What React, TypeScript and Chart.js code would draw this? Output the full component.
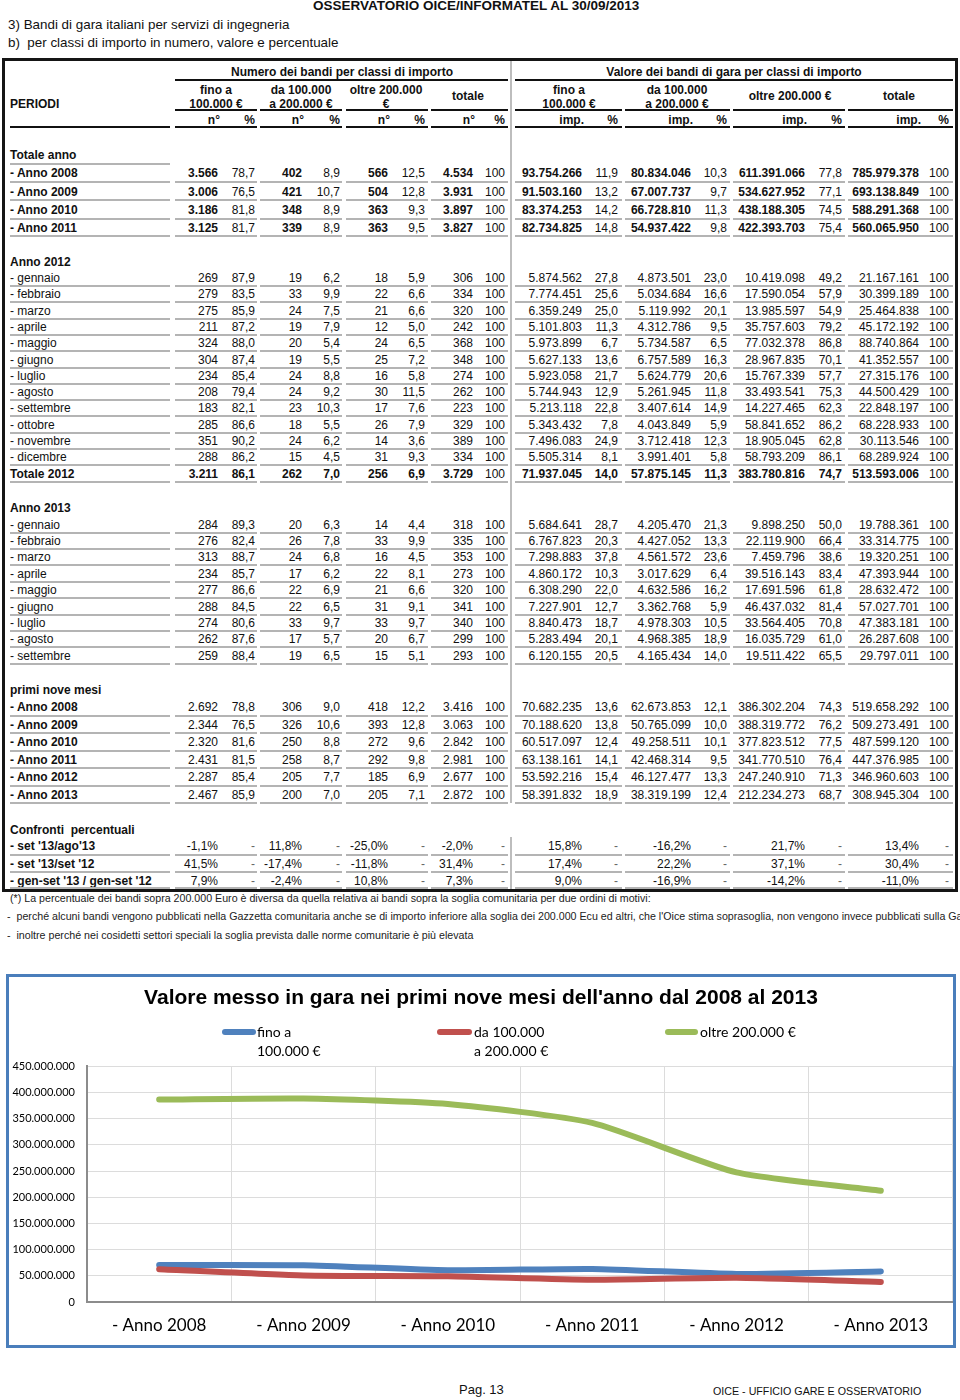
import React, { useEffect, useRef } from "react";
import { Chart, registerables } from "chart.js";
Chart.register(...registerables);

// ---------- chart data ----------
const chartYears = ["- Anno 2008", "- Anno 2009", "- Anno 2010", "- Anno 2011", "- Anno 2012", "- Anno 2013"];
const fino100 = [70682235, 70188620, 60517097, 63138161, 53592216, 58391832];
const da100a200 = [62673853, 50765099, 49258511, 42468314, 46127477, 38319199];
const oltre200 = [386302204, 388319772, 377823512, 341770510, 247240910, 212234273];
const seriesNames = ["fino a 100.000 €", "da 100.000 a 200.000 €", "oltre 200.000 €"];
const chartTitle = "Valore messo in gara nei primi nove mesi dell'anno dal 2008 al 2013";

// ---------- table data ----------
const totaleAnnoLabels = ["- Anno 2008", "- Anno 2009", "- Anno 2010", "- Anno 2011"];
const totaleAnnoRows = [
  ["3.566", "78,7", "402", "8,9", "566", "12,5", "4.534", "100", "93.754.266", "11,9", "80.834.046", "10,3", "611.391.066", "77,8", "785.979.378", "100"],
  ["3.006", "76,5", "421", "10,7", "504", "12,8", "3.931", "100", "91.503.160", "13,2", "67.007.737", "9,7", "534.627.952", "77,1", "693.138.849", "100"],
  ["3.186", "81,8", "348", "8,9", "363", "9,3", "3.897", "100", "83.374.253", "14,2", "66.728.810", "11,3", "438.188.305", "74,5", "588.291.368", "100"],
  ["3.125", "81,7", "339", "8,9", "363", "9,5", "3.827", "100", "82.734.825", "14,8", "54.937.422", "9,8", "422.393.703", "75,4", "560.065.950", "100"],
];
const mesi2012 = ["- gennaio", "- febbraio", "- marzo", "- aprile", "- maggio", "- giugno", "- luglio", "- agosto", "- settembre", "- ottobre", "- novembre", "- dicembre"];
const rows2012 = [
  ["269", "87,9", "19", "6,2", "18", "5,9", "306", "100", "5.874.562", "27,8", "4.873.501", "23,0", "10.419.098", "49,2", "21.167.161", "100"],
  ["279", "83,5", "33", "9,9", "22", "6,6", "334", "100", "7.774.451", "25,6", "5.034.684", "16,6", "17.590.054", "57,9", "30.399.189", "100"],
  ["275", "85,9", "24", "7,5", "21", "6,6", "320", "100", "6.359.249", "25,0", "5.119.992", "20,1", "13.985.597", "54,9", "25.464.838", "100"],
  ["211", "87,2", "19", "7,9", "12", "5,0", "242", "100", "5.101.803", "11,3", "4.312.786", "9,5", "35.757.603", "79,2", "45.172.192", "100"],
  ["324", "88,0", "20", "5,4", "24", "6,5", "368", "100", "5.973.899", "6,7", "5.734.587", "6,5", "77.032.378", "86,8", "88.740.864", "100"],
  ["304", "87,4", "19", "5,5", "25", "7,2", "348", "100", "5.627.133", "13,6", "6.757.589", "16,3", "28.967.835", "70,1", "41.352.557", "100"],
  ["234", "85,4", "24", "8,8", "16", "5,8", "274", "100", "5.923.058", "21,7", "5.624.779", "20,6", "15.767.339", "57,7", "27.315.176", "100"],
  ["208", "79,4", "24", "9,2", "30", "11,5", "262", "100", "5.744.943", "12,9", "5.261.945", "11,8", "33.493.541", "75,3", "44.500.429", "100"],
  ["183", "82,1", "23", "10,3", "17", "7,6", "223", "100", "5.213.118", "22,8", "3.407.614", "14,9", "14.227.465", "62,3", "22.848.197", "100"],
  ["285", "86,6", "18", "5,5", "26", "7,9", "329", "100", "5.343.432", "7,8", "4.043.849", "5,9", "58.841.652", "86,2", "68.228.933", "100"],
  ["351", "90,2", "24", "6,2", "14", "3,6", "389", "100", "7.496.083", "24,9", "3.712.418", "12,3", "18.905.045", "62,8", "30.113.546", "100"],
  ["288", "86,2", "15", "4,5", "31", "9,3", "334", "100", "5.505.314", "8,1", "3.991.401", "5,8", "58.793.209", "86,1", "68.289.924", "100"],
];
const totale2012 = ["3.211", "86,1", "262", "7,0", "256", "6,9", "3.729", "100", "71.937.045", "14,0", "57.875.145", "11,3", "383.780.816", "74,7", "513.593.006", "100"];
const mesi2013 = ["- gennaio", "- febbraio", "- marzo", "- aprile", "- maggio", "- giugno", "- luglio", "- agosto", "- settembre"];
const rows2013 = [
  ["284", "89,3", "20", "6,3", "14", "4,4", "318", "100", "5.684.641", "28,7", "4.205.470", "21,3", "9.898.250", "50,0", "19.788.361", "100"],
  ["276", "82,4", "26", "7,8", "33", "9,9", "335", "100", "6.767.823", "20,3", "4.427.052", "13,3", "22.119.900", "66,4", "33.314.775", "100"],
  ["313", "88,7", "24", "6,8", "16", "4,5", "353", "100", "7.298.883", "37,8", "4.561.572", "23,6", "7.459.796", "38,6", "19.320.251", "100"],
  ["234", "85,7", "17", "6,2", "22", "8,1", "273", "100", "4.860.172", "10,3", "3.017.629", "6,4", "39.516.143", "83,4", "47.393.944", "100"],
  ["277", "86,6", "22", "6,9", "21", "6,6", "320", "100", "6.308.290", "22,0", "4.632.586", "16,2", "17.691.596", "61,8", "28.632.472", "100"],
  ["288", "84,5", "22", "6,5", "31", "9,1", "341", "100", "7.227.901", "12,7", "3.362.768", "5,9", "46.437.032", "81,4", "57.027.701", "100"],
  ["274", "80,6", "33", "9,7", "33", "9,7", "340", "100", "8.840.473", "18,7", "4.978.303", "10,5", "33.564.405", "70,8", "47.383.181", "100"],
  ["262", "87,6", "17", "5,7", "20", "6,7", "299", "100", "5.283.494", "20,1", "4.968.385", "18,9", "16.035.729", "61,0", "26.287.608", "100"],
  ["259", "88,4", "19", "6,5", "15", "5,1", "293", "100", "6.120.155", "20,5", "4.165.434", "14,0", "19.511.422", "65,5", "29.797.011", "100"],
];
const noveMesiLabels = ["- Anno 2008", "- Anno 2009", "- Anno 2010", "- Anno 2011", "- Anno 2012", "- Anno 2013"];
const noveMesiRows = [
  ["2.692", "78,8", "306", "9,0", "418", "12,2", "3.416", "100", "70.682.235", "13,6", "62.673.853", "12,1", "386.302.204", "74,3", "519.658.292", "100"],
  ["2.344", "76,5", "326", "10,6", "393", "12,8", "3.063", "100", "70.188.620", "13,8", "50.765.099", "10,0", "388.319.772", "76,2", "509.273.491", "100"],
  ["2.320", "81,6", "250", "8,8", "272", "9,6", "2.842", "100", "60.517.097", "12,4", "49.258.511", "10,1", "377.823.512", "77,5", "487.599.120", "100"],
  ["2.431", "81,5", "258", "8,7", "292", "9,8", "2.981", "100", "63.138.161", "14,1", "42.468.314", "9,5", "341.770.510", "76,4", "447.376.985", "100"],
  ["2.287", "85,4", "205", "7,7", "185", "6,9", "2.677", "100", "53.592.216", "15,4", "46.127.477", "13,3", "247.240.910", "71,3", "346.960.603", "100"],
  ["2.467", "85,9", "200", "7,0", "205", "7,1", "2.872", "100", "58.391.832", "18,9", "38.319.199", "12,4", "212.234.273", "68,7", "308.945.304", "100"],
];
const confrontiLabels = ["- set '13/ago'13", "- set '13/set '12", "- gen-set '13 / gen-set '12"];
const confrontiRows = [
  ["-1,1%", "-", "11,8%", "-", "-25,0%", "-", "-2,0%", "-", "15,8%", "-", "-16,2%", "-", "21,7%", "-", "13,4%", "-"],
  ["41,5%", "-", "-17,4%", "-", "-11,8%", "-", "31,4%", "-", "17,4%", "-", "22,2%", "-", "37,1%", "-", "30,4%", "-"],
  ["7,9%", "-", "-2,4%", "-", "10,8%", "-", "7,3%", "-", "9,0%", "-", "-16,9%", "-", "-14,2%", "-", "-11,0%", "-"],
];
const subHeaders = ["n°", "%", "n°", "%", "n°", "%", "n°", "%", "imp.", "%", "imp.", "%", "imp.", "%", "imp.", "%"];

// ---------- layout ----------
const BASE = "'Liberation Sans', Arial, Helvetica, sans-serif";
const NARROW = "'Liberation Sans Narrow', 'Arial Narrow', 'Liberation Sans', sans-serif";
const CAL = "Lato, 'Open Sans', sans-serif";
const COLS = [218, 255, 302, 340, 388, 425, 473, 505, 582, 618, 691, 727, 805, 842, 919, 949];
const GROUPS = [[175, 257], [260, 342], [346, 428], [431, 508], [515, 622], [625, 730], [733, 845], [848, 953]];
const LABEL_LINE = [10, 170];

type TP = { x: number; y: number; t: string; a?: "l" | "r" | "c"; b?: boolean; s?: number; f?: string; c?: string; sx?: number };
function Txt({ x, y, t, a = "l", b = false, s = 12, f = BASE, c = "#111", sx }: TP) {
  const h = 20;
  const st: React.CSSProperties = {
    position: "absolute", top: y - h / 2, height: h, lineHeight: h + "px", fontSize: s,
    fontWeight: b ? 700 : 400, fontFamily: f, color: c, whiteSpace: "pre",
  };
  if (a === "l") st.left = x;
  else if (a === "r") st.right = 960 - x;
  else { st.left = x - 300; st.width = 600; st.textAlign = "center"; }
  if (sx) { st.transform = `scaleX(${sx})`; st.transformOrigin = "left center"; }
  return <div style={st}>{t}</div>;
}
function HL({ x1, x2, y, c = "#b4b4b4", w = 2 }: { x1: number; x2: number; y: number; c?: string; w?: number }) {
  return <div style={{ position: "absolute", left: x1, width: x2 - x1, top: y - w / 2, height: w, background: c }} />;
}

type RowP = { y: number; label: string; vals: string[]; lb?: boolean; vb?: (i: number, v: string) => boolean; lo?: number; vc?: (v: string) => string };
function Row({ y, label, vals, lb = false, vb = () => false, lo = 8, vc = () => "#111" }: RowP) {
  return (
    <>
      <Txt x={10} y={y} t={label} b={lb} />
      {vals.map((v, i) => <Txt key={i} x={COLS[i]} y={y} t={v} a="r" b={vb(i, v)} c={vc(v)} />)}
      <HL x1={LABEL_LINE[0]} x2={LABEL_LINE[1]} y={y + lo} />
      {GROUPS.map((g, i) => <HL key={"g" + i} x1={g[0]} x2={g[1]} y={y + lo} />)}
    </>
  );
}

function fmt(v: number) {
  return Math.round(v).toString().replace(/\B(?=(\d{3})+(?!\d))/g, ".");
}

function ChartBox() {
  const ref = useRef<HTMLCanvasElement>(null);
  useEffect(() => {
    const colors = ["#4F81BD", "#C0504D", "#9BBB59"];
    const data = [fino100, da100a200, oltre200];
    const chart = new Chart(ref.current!, {
      type: "line",
      data: {
        labels: chartYears,
        datasets: data.map((d, i) => ({
          label: seriesNames[i], data: d, borderColor: colors[i], backgroundColor: colors[i],
          borderWidth: 6, pointRadius: 0, tension: 0.2, borderCapStyle: "round", borderJoinStyle: "round", order: 3 - i,
        })),
      },
      options: {
        animation: false, responsive: false,
        layout: { padding: { top: 0, right: 0, bottom: 10, left: 0 } },
        plugins: {
          legend: { display: false }, tooltip: { enabled: false },
          title: { display: true, text: chartTitle, color: "#000", font: { family: BASE, size: 21, weight: "bold" }, padding: { top: 9, bottom: 55 } },
        },
        scales: {
          x: {
            offset: true,
            grid: { offset: true, color: "#dcdcdc", drawTicks: false },
            border: { color: "#8c8c8c", width: 2 },
            ticks: { color: "#000", font: { family: CAL, size: 17 }, padding: 13, maxRotation: 0, autoSkip: false },
            afterFit: (s: any) => { s.height = 33; },
          },
          y: {
            min: 0, max: 450000000,
            grid: { color: "#dcdcdc", drawTicks: false },
            border: { color: "#8c8c8c", width: 2 },
            ticks: { stepSize: 50000000, color: "#000", font: { family: CAL, size: 11 }, padding: 12, callback: (v: any) => fmt(Number(v)) },
            afterFit: (s: any) => { s.width = 78; },
          },
        },
      },
    } as any);
    return () => chart.destroy();
  }, []);
  return (
    <div style={{ position: "absolute", left: 6, top: 974, width: 950, height: 374, border: "3px solid #4A7EBB", boxSizing: "border-box" }}>
      <canvas ref={ref} width={944} height={368} style={{ position: "absolute", left: 0, top: 0, width: 944, height: 368 }} />
    </div>
  );
}

function Legend() {
  const items = [
    { x: 222, w: 34, c: "#4F81BD", tx: 257, lines: ["fino a", "100.000 €"] },
    { x: 437, w: 35, c: "#C0504D", tx: 474, lines: ["da 100.000", "a 200.000 €"] },
    { x: 665, w: 33, c: "#9BBB59", tx: 700, lines: ["oltre 200.000 €"] },
  ];
  return (
    <>
      {items.map((it, i) => (
        <React.Fragment key={i}>
          <div style={{ position: "absolute", left: it.x, top: 1029, width: it.w, height: 6, borderRadius: 3, background: it.c }} />
          {it.lines.map((l, j) => <Txt key={j} x={it.tx} y={1031.5 + j * 19.5} t={l} f={CAL} s={14} c="#000" />)}
        </React.Fragment>
      ))}
    </>
  );
}

export default function App() {
  const monthY12 = mesi2012.map((_, i) => 278 + i * 16.3);
  const monthY13 = mesi2013.map((_, i) => 524.5 + i * 16.4);
  const tY = [173, 191.5, 210, 227.5];
  const nY = noveMesiLabels.map((_, i) => 707 + i * 17.5);
  const cY = [846, 863.5, 881];
  const evenBold = (i: number) => i % 2 === 0;
  const allBold = (_i: number, v: string) => v !== "100";
  return (
    <div style={{ position: "absolute", left: 0, top: 0, width: 960, height: 1400, overflow: "hidden", background: "#fff" }}>
      <Txt x={313} y={5.5} t="OSSERVATORIO OICE/INFORMATEL AL 30/09/2013" b s={13.5} />
      <Txt x={8} y={25} t="3) Bandi di gara italiani per servizi di ingegneria" s={13.4} />
      <Txt x={8} y={43} t="b)  per classi di importo in numero, valore e percentuale" s={13.4} />

      {/* table frame */}
      <div style={{ position: "absolute", left: 2, top: 58, width: 956, height: 834, border: "3px solid #151515", boxSizing: "border-box" }} />
      <div style={{ position: "absolute", left: 510, top: 61, width: 2, height: 742, background: "#bdbdbd" }} />
      <div style={{ position: "absolute", left: 510, top: 837, width: 2, height: 52, background: "#bdbdbd" }} />

      {/* header */}
      <Txt x={342} y={72} t="Numero dei bandi per classi di importo" a="c" b />
      <Txt x={734} y={72} t="Valore dei bandi di gara per classi di importo" a="c" b />
      <HL x1={175} x2={508} y={79.5} c="#111" />
      <HL x1={515} x2={953} y={79.5} c="#111" />
      <Txt x={10} y={104} t="PERIODI" b />
      <Txt x={216} y={89.5} t="fino a" a="c" b />
      <Txt x={216} y={103.5} t="100.000 €" a="c" b />
      <Txt x={301} y={89.5} t="da 100.000" a="c" b />
      <Txt x={301} y={103.5} t="a 200.000 €" a="c" b />
      <Txt x={386} y={89.5} t="oltre 200.000" a="c" b />
      <Txt x={386} y={103.5} t="€" a="c" b />
      <Txt x={468} y={96} t="totale" a="c" b />
      <Txt x={569} y={89.5} t="fino a" a="c" b />
      <Txt x={569} y={103.5} t="100.000 €" a="c" b />
      <Txt x={677} y={89.5} t="da 100.000" a="c" b />
      <Txt x={677} y={103.5} t="a 200.000 €" a="c" b />
      <Txt x={790} y={96} t="oltre 200.000 €" a="c" b />
      <Txt x={899} y={96} t="totale" a="c" b />
      {GROUPS.map((g, i) => <HL key={"h1" + i} x1={g[0]} x2={g[1]} y={110} c="#111" />)}
      {subHeaders.map((h, i) => <Txt key={"sh" + i} x={COLS[i] + (i % 2 === 0 ? 2 : 0)} y={119.5} t={h} a="r" b />)}
      <HL x1={LABEL_LINE[0]} x2={LABEL_LINE[1]} y={127} c="#111" />
      {GROUPS.map((g, i) => <HL key={"h2" + i} x1={g[0]} x2={g[1]} y={127} c="#111" />)}

      {/* Totale anno */}
      <Txt x={10} y={155} t="Totale anno" b />
      <HL x1={LABEL_LINE[0]} x2={LABEL_LINE[1]} y={163.5} />
      {totaleAnnoLabels.map((l, i) => <Row key={"ta" + i} y={tY[i]} label={l} vals={totaleAnnoRows[i]} lb vb={evenBold} lo={8.5} />)}

      {/* Anno 2012 */}
      <Txt x={10} y={261.5} t="Anno 2012" b />
      {mesi2012.map((m, i) => <Row key={"m12" + i} y={monthY12[i]} label={m} vals={rows2012[i]} />)}
      <Row y={473.6} label="Totale 2012" vals={totale2012} lb vb={allBold} />

      {/* Anno 2013 */}
      <Txt x={10} y={507.5} t="Anno 2013" b />
      {mesi2013.map((m, i) => <Row key={"m13" + i} y={monthY13[i]} label={m} vals={rows2013[i]} />)}

      {/* primi nove mesi */}
      <Txt x={10} y={690} t="primi nove mesi" b />
      {noveMesiLabels.map((l, i) => <Row key={"nm" + i} y={nY[i]} label={l} vals={noveMesiRows[i]} lb lo={8.5} />)}

      {/* Confronti */}
      <Txt x={10} y={829.5} t="Confronti  percentuali" b />
      {confrontiLabels.map((l, i) => <Row key={"cf" + i} y={cY[i]} label={l} vals={confrontiRows[i]} lb lo={i === 2 ? 6.5 : 8.5} vc={(v) => (v === "-" ? "#666" : "#111")} />)}

      {/* footnotes */}
      <Txt x={10} y={898} s={11.5} sx={0.927} f={NARROW} c="#222" t="(*) La percentuale dei bandi sopra 200.000 Euro è diversa da quella relativa ai bandi sopra la soglia comunitaria per due ordini di motivi:" />
      <Txt x={7} y={916} s={11.5} sx={0.927} f={NARROW} c="#222" t="-  perché alcuni bandi vengono pubblicati nella Gazzetta comunitaria anche se di importo inferiore alla soglia dei 200.000 Ecu ed altri, che l'Oice stima soprasoglia, non vengono invece pubblicati sulla Gazzetta comunitaria" />
      <Txt x={7} y={935} s={11.5} sx={0.927} f={NARROW} c="#222" t="-  inoltre perché nei cosidetti settori speciali la soglia prevista dalle norme comunitarie è più elevata" />

      <ChartBox />
      <Legend />

      <Txt x={459} y={1390} t="Pag. 13" s={13} />
      <Txt x={713} y={1391} t="OICE - UFFICIO GARE E OSSERVATORIO" s={10.7} />
    </div>
  );
}
